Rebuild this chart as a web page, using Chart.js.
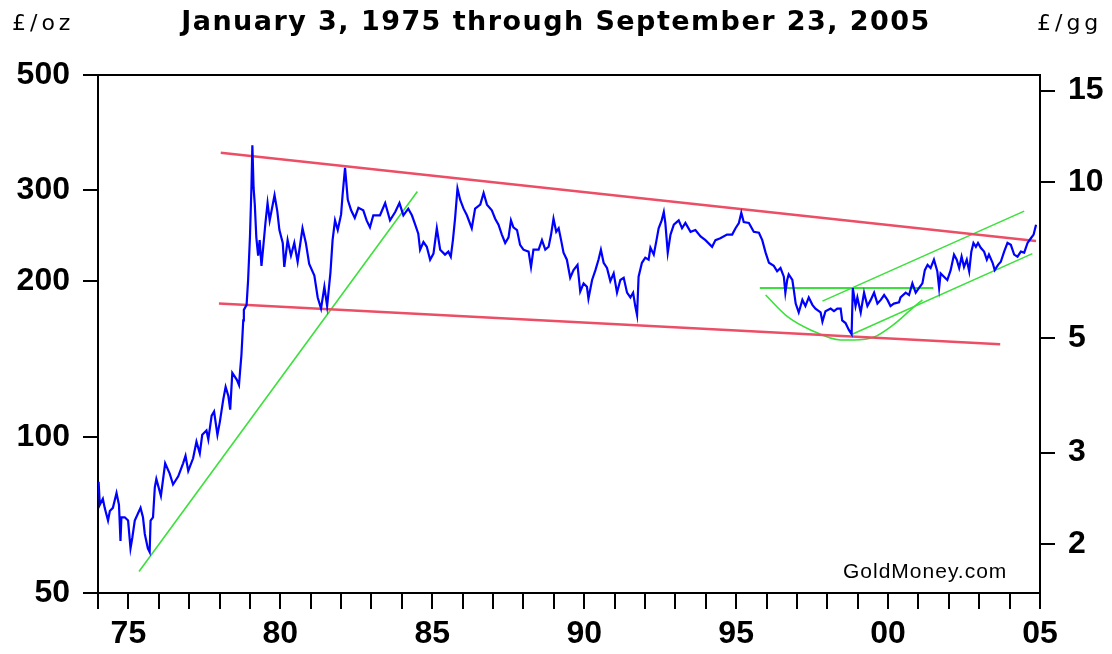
<!DOCTYPE html>
<html><head><meta charset="utf-8">
<script src="https://cdn.jsdelivr.net/npm/chart.js@4.4.1/dist/chart.umd.min.js"></script>
<style>html,body{margin:0;padding:0;background:#fff;}canvas{display:block;}</style>
</head><body>
<canvas id="c" width="1112" height="654"></canvas>
<script>
const titleText = 'January 3, 1975 through September 23, 2005';
const leftUnit = '£/oz';
const rightUnit = '£/gg';
const watermark = 'GoldMoney.com';
const gramsPerOunce = 31.1035;

const leftTicks = [50, 100, 200, 300, 500];
const rightTicks = [2, 3, 5, 10, 15];
const xLabelYears = [1975, 1980, 1985, 1990, 1995, 2000, 2005];
const xLabels = ['75', '80', '85', '90', '95', '00', '05'];

const goldYears = [
1974.02,1974.06,1974.16,1974.22,1974.33,1974.39,1974.49,1974.61,1974.69,1974.74,1974.77,1974.88,1974.99,
1975.07,1975.13,1975.21,1975.40,1975.48,1975.54,1975.64,1975.70,1975.73,1975.81,1975.87,1975.92,
1976.07,1976.21,1976.36,1976.47,1976.64,1976.80,1976.88,1976.97,
1977.13,1977.24,1977.35,1977.43,1977.57,1977.63,1977.74,1977.82,1977.93,
1978.01,1978.12,1978.20,1978.29,1978.35,1978.42,1978.57,1978.64,1978.68,1978.72,1978.78,1978.80,1978.89,1978.94,
1979.00,1979.05,1979.08,1979.12,1979.16,1979.21,1979.27,1979.32,1979.38,1979.43,1979.51,1979.58,1979.65,1979.76,1979.81,1979.90,1979.97,
1980.08,1980.13,1980.24,1980.35,1980.46,1980.57,1980.73,1980.84,1980.95,
1981.12,1981.23,1981.34,1981.45,1981.54,1981.65,1981.72,1981.80,1981.89,
1982.00,1982.05,1982.13,1982.22,1982.33,1982.45,1982.57,1982.73,1982.84,1982.95,
1983.06,1983.28,1983.45,1983.61,1983.78,1983.92,
1984.05,1984.21,1984.33,1984.43,1984.54,1984.60,1984.71,1984.82,1984.93,
1985.04,1985.15,1985.26,1985.42,1985.53,1985.61,1985.68,1985.75,1985.83,1985.92,
1986.03,1986.14,1986.30,1986.41,1986.58,1986.69,1986.80,1986.96,
1987.07,1987.18,1987.29,1987.40,1987.51,1987.59,1987.67,1987.79,1987.89,
1988.00,1988.17,1988.25,1988.33,1988.50,1988.61,1988.72,1988.83,1988.91,1988.99,
1989.08,1989.16,1989.24,1989.32,1989.43,1989.54,1989.65,1989.78,1989.87,1989.98,
1990.09,1990.14,1990.26,1990.37,1990.47,1990.55,1990.64,1990.75,1990.86,1990.97,
1991.08,1991.19,1991.30,1991.41,1991.52,1991.61,1991.68,1991.74,1991.79,1991.90,
1992.01,1992.12,1992.18,1992.29,1992.38,1992.45,1992.55,1992.62,1992.67,1992.75,1992.84,1992.95,
1993.11,1993.22,1993.33,1993.50,1993.66,1993.83,1993.99,
1994.21,1994.32,1994.48,1994.70,1994.87,1994.98,
1995.09,1995.17,1995.25,1995.42,1995.58,1995.75,1995.86,1995.97,
1996.08,1996.24,1996.35,1996.46,1996.57,1996.62,1996.68,1996.73,1996.85,1996.90,1996.96,
1997.06,1997.18,1997.28,1997.39,1997.51,1997.61,1997.78,1997.84,1997.94,
1998.11,1998.22,1998.33,1998.44,1998.49,1998.60,1998.71,1998.80,1998.84,1998.93,1998.99,
1999.10,1999.21,1999.32,1999.43,1999.54,1999.65,1999.76,1999.87,1999.98,
2000.08,2000.19,2000.36,2000.41,2000.58,2000.69,2000.80,2000.91,
2001.02,2001.13,2001.21,2001.30,2001.40,2001.51,2001.62,2001.68,2001.73,2001.84,2001.95,
2002.06,2002.17,2002.26,2002.34,2002.42,2002.50,2002.59,2002.67,2002.74,2002.81,2002.89,2002.96,
2003.05,2003.16,2003.25,2003.32,2003.44,2003.51,2003.62,2003.71,2003.82,2003.93,
2004.04,2004.15,2004.26,2004.37,2004.48,2004.59,2004.70,2004.79,2004.87
];
const goldPrices = [
82,74,76,73,69,72,73,78,74,63,70,70,69,
61,64,69,73,70,65,61,60,69,70,80,83,
77,89,85,81,84,89,92,86,
91,98,93,101,103,99,110,112,101,
107,118,125,120,113,133,129,126,135,144,168,176,180,201,
243,304,366,303,281,243,224,240,214,230,259,283,262,283,293,273,251,
237,213,240,224,237,218,253,237,216,
205,186,177,195,179,208,240,262,251,
269,294,331,287,274,265,277,274,262,254,
268,268,283,262,272,283,
268,276,268,258,247,230,238,233,220,
226,253,230,225,228,223,240,264,302,287,
276,268,253,276,281,296,281,274,
264,257,246,237,243,262,254,251,235,
230,228,213,230,230,240,230,233,246,264,
249,253,240,227,220,203,210,215,191,198,
195,185,201,210,220,230,217,212,200,207,
190,201,203,190,186,190,179,172,204,217,
222,220,232,225,240,253,262,272,259,227,246,257,
262,253,259,249,251,244,240,
233,240,242,246,246,253,
259,271,260,259,249,248,240,227,
217,214,209,212,204,190,201,206,201,192,181,
174,184,179,186,180,177,174,167,175,
177,175,177,177,168,166,161,158,194,179,186,
174,190,179,184,190,181,184,188,184,
179,181,182,186,190,188,198,190,
194,198,210,215,212,220,209,194,207,204,201,
210,225,220,212,223,213,220,209,228,237,233,237,
232,228,220,225,217,210,215,218,228,237,
235,225,223,228,227,237,242,246,257
];

const redUpperYears = [1978.04, 2004.87];
const redUpperPrices = [354, 239];
const redLowerYears = [1977.98, 2003.69];
const redLowerPrices = [181, 151];
const greenRiseYears = [1975.35, 1984.51];
const greenRisePrices = [55, 298];
const greenNeckYears = [1995.78, 2001.49];
const greenNeckPrices = [194, 194];
const greenTopYears = [1997.84, 2004.48];
const greenTopPrices = [183, 273];
const greenLowYears = [1998.82, 2004.75];
const greenLowPrices = [158, 226];
const greenBowlYears = [1995.97, 1996.68, 1997.45, 1998.44, 1998.88, 1999.54, 2000.19, 2000.74, 2001.13];
const greenBowlPrices = [188, 171, 161, 154, 154, 156, 165, 176, 184];

const pts = (xs, ys) => xs.map((x, i) => ({x: x, y: ys[i]}));
const RED = 'rgb(236,78,102)';
const GREEN = 'rgb(60,224,60)';
const BLUE = 'rgb(0,0,255)';
const tickFont = {family: '"Liberation Sans", Arial, sans-serif', size: 32, weight: 'bold'};

const textPlugin = {
  id: 'texts',
  afterDraw(chart) {
    const ctx = chart.ctx;
    ctx.save();
    ctx.fillStyle = '#000';
    ctx.textBaseline = 'alphabetic';
    ctx.textAlign = 'left';
    ctx.font = 'bold 27px "DejaVu Sans", sans-serif';
    ctx.letterSpacing = '1.45px';
    const w = ctx.measureText(titleText).width;
    ctx.fillText(titleText, 556 - w / 2, 30);
    ctx.font = '22px "DejaVu Sans", sans-serif';
    ctx.letterSpacing = '4px';
    ctx.fillText(leftUnit, 12, 30);
    ctx.fillText(rightUnit, 1037, 30);
    ctx.font = '21px "Liberation Sans", Arial, sans-serif';
    ctx.letterSpacing = '1px';
    ctx.fillText(watermark, 843, 578);
    ctx.restore();
  }
};

new Chart(document.getElementById('c'), {
  type: 'line',
  data: {
    datasets: [
      {data: pts(goldYears, goldPrices), borderColor: BLUE, borderWidth: 2.2, yAxisID: 'y'},
      {data: pts(redUpperYears, redUpperPrices), borderColor: RED, borderWidth: 2.5, yAxisID: 'y'},
      {data: pts(redLowerYears, redLowerPrices), borderColor: RED, borderWidth: 2.5, yAxisID: 'y'},
      {data: pts(greenRiseYears, greenRisePrices), borderColor: GREEN, borderWidth: 1.6, yAxisID: 'y'},
      {data: pts(greenNeckYears, greenNeckPrices), borderColor: GREEN, borderWidth: 2.2, yAxisID: 'y'},
      {data: pts(greenTopYears, greenTopPrices), borderColor: GREEN, borderWidth: 1.6, yAxisID: 'y'},
      {data: pts(greenLowYears, greenLowPrices), borderColor: GREEN, borderWidth: 1.6, yAxisID: 'y'},
      {data: pts(greenBowlYears, greenBowlPrices), borderColor: GREEN, borderWidth: 1.6, yAxisID: 'y', cubicInterpolationMode: 'monotone'}
    ]
  },
  options: {
    responsive: false,
    animation: false,
    devicePixelRatio: 1,
    layout: {padding: {top: 75, left: 0, right: 0, bottom: 0}},
    plugins: {legend: {display: false}, tooltip: {enabled: false}, title: {display: false}},
    elements: {point: {radius: 0, hoverRadius: 0}, line: {tension: 0, fill: false}},
    scales: {
      x: {
        type: 'linear', position: 'bottom', min: 1974, max: 2005,
        ticks: {
          stepSize: 1, autoSkip: false, maxRotation: 0, minRotation: 0, padding: 6,
          color: '#000', font: tickFont,
          callback: (v) => { const i = xLabelYears.indexOf(v); return i >= 0 ? xLabels[i] : ''; }
        },
        grid: {drawOnChartArea: false, tickLength: 16, color: '#000', lineWidth: 2},
        border: {color: '#000', width: 2},
        afterFit: (s) => { s.height = 61; }
      },
      xTop: {
        type: 'linear', position: 'top', min: 1974, max: 2005,
        ticks: {display: false},
        grid: {display: false},
        border: {color: '#000', width: 2},
        afterFit: (s) => { s.height = 0; }
      },
      y: {
        type: 'logarithmic', position: 'left', min: 50, max: 500,
        afterBuildTicks: (s) => { s.ticks = leftTicks.map(v => ({value: v})); },
        ticks: {color: '#000', font: tickFont, padding: 13, autoSkip: false, callback: (v) => String(v)},
        grid: {drawOnChartArea: false, tickLength: 15, color: '#000', lineWidth: 2},
        border: {color: '#000', width: 2},
        afterFit: (s) => { s.width = 98; }
      },
      y2: {
        type: 'logarithmic', position: 'right', min: 50 / gramsPerOunce, max: 500 / gramsPerOunce,
        afterBuildTicks: (s) => { s.ticks = rightTicks.map(v => ({value: v})); },
        ticks: {color: '#000', font: tickFont, padding: 13, autoSkip: false, callback: (v) => String(v)},
        grid: {drawOnChartArea: false, tickLength: 15, color: '#000', lineWidth: 2},
        border: {color: '#000', width: 2},
        afterFit: (s) => { s.width = 72; }
      }
    }
  },
  plugins: [textPlugin]
});
</script>
</body></html>
